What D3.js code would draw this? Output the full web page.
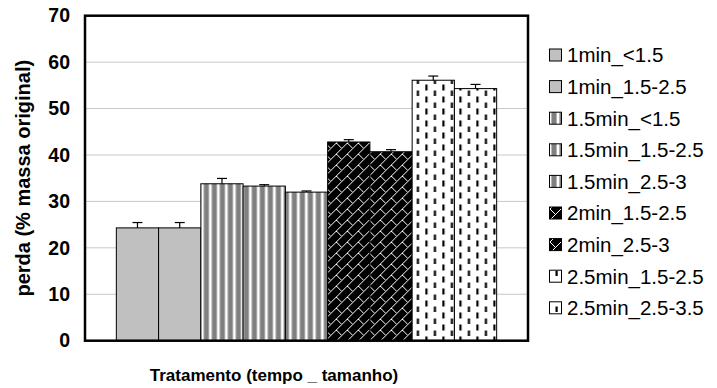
<!DOCTYPE html>
<html><head><meta charset="utf-8">
<script src="https://cdn.jsdelivr.net/npm/d3@7"></script>
<style>body{margin:0;background:#fff}svg{display:block}</style>
</head><body>
<svg id="c" width="717" height="388"></svg>
<script>
const categories = ["Tratamento"];
const series = ["1min_<1.5","1min_1.5-2.5","1.5min_<1.5","1.5min_1.5-2.5","1.5min_2.5-3","2min_1.5-2.5","2min_2.5-3","2.5min_1.5-2.5","2.5min_2.5-3.5"];
const values = [24.3, 24.3, 33.8, 33.3, 32.0, 42.8, 40.7, 56.1, 54.3];
const errors = [1.15, 1.15, 1.15, 0.3, 0.25, 0.5, 0.45, 0.9, 0.9];
const yTicks = [0, 10, 20, 30, 40, 50, 60, 70];
const yTitle = "perda (% massa original)";
const xTitle = "Tratamento (tempo _ tamanho)";

const patternOf = ["solid","solid","vstripe","vstripe","vstripe","brick","brick","dash","dash"];

const svg = d3.select("#c");
const L = 85, R = 528, T = 15.7, B = 340.7;
const FONT = "'Liberation Sans', Arial, Helvetica, sans-serif";

// patterns
const defs = svg.append("defs");
const pv = defs.append("pattern").attr("id","vstripe").attr("patternUnits","userSpaceOnUse").attr("width",8).attr("height",8);
pv.append("rect").attr("width",8).attr("height",8).attr("fill","#fff");
pv.append("rect").attr("x",0).attr("width",4).attr("height",8).attr("fill","#808080");
pv.append("rect").attr("x",4).attr("width",1).attr("height",8).attr("fill","#b4b4b4");
pv.append("rect").attr("x",7).attr("width",1).attr("height",8).attr("fill","#b4b4b4");
const pb = defs.append("pattern").attr("id","brick").attr("patternUnits","userSpaceOnUse").attr("width",11).attr("height",11);
pb.append("rect").attr("width",11).attr("height",11).attr("fill","#000");
pb.append("path").attr("d","M-1,12L12,-1M0,0L5.5,5.5").attr("stroke","#fff").attr("stroke-width",1).attr("fill","none");
const pd = defs.append("pattern").attr("id","dash").attr("patternUnits","userSpaceOnUse").attr("width",17).attr("height",12);
pd.append("rect").attr("width",17).attr("height",12).attr("fill","#fff");
pd.append("rect").attr("x",3).attr("y",0.5).attr("width",2.2).attr("height",6).attr("fill","#000");
pd.append("rect").attr("x",11.5).attr("y",6.5).attr("width",2.2).attr("height",6).attr("fill","#000");
const fillFor = p => p === "solid" ? "#c0c0c0" : `url(#${p})`;

const y = d3.scaleLinear().domain([0, 70]).range([B, T]);
const x0 = d3.scaleBand().domain(categories).range([L, R]).paddingInner(0).paddingOuter(0.0824);
const x1 = d3.scaleBand().domain(series).range([0, x0.bandwidth()]).padding(0);

// gridlines
svg.append("g").selectAll("line").data(yTicks.filter(t => t > 0 && t < 70)).join("line")
  .attr("x1", L).attr("x2", R).attr("y1", d => y(d)).attr("y2", d => y(d))
  .attr("stroke", "#c8c8c8").attr("stroke-width", 1);

// bars
const g = svg.append("g").attr("transform", `translate(${x0(categories[0])},0)`);
g.selectAll("rect").data(series).join("rect")
  .attr("x", d => x1(d)).attr("width", x1.bandwidth())
  .attr("y", (d, i) => y(values[i])).attr("height", (d, i) => B - y(values[i]))
  .attr("fill", (d, i) => fillFor(patternOf[i]))
  .attr("stroke", "#000").attr("stroke-width", 1);

// error bars
const eb = g.append("g").attr("stroke", "#000").attr("stroke-width", 1.2);
series.forEach((s, i) => {
  const cx = x1(s) + x1.bandwidth() / 2;
  eb.append("line").attr("x1", cx).attr("x2", cx).attr("y1", y(values[i])).attr("y2", y(values[i] + errors[i]));
  eb.append("line").attr("x1", cx - 5).attr("x2", cx + 5).attr("y1", y(values[i] + errors[i])).attr("y2", y(values[i] + errors[i]));
});

// frame
svg.append("rect").attr("x", L).attr("y", T).attr("width", R - L).attr("height", B - T)
  .attr("fill", "none").attr("stroke", "#000").attr("stroke-width", 2.5);

// y axis labels
const yAxis = d3.axisLeft(y).tickValues(yTicks).tickSize(0).tickPadding(15);
const ya = svg.append("g").attr("transform", `translate(${L},0)`).call(yAxis);
ya.select(".domain").remove();
ya.selectAll("text").attr("font-family", FONT).attr("font-weight", "bold").attr("font-size", 19.5).attr("fill", "#000");

// titles
svg.append("text").attr("x", 274).attr("y", 381).attr("text-anchor", "middle")
  .attr("font-family", FONT).attr("font-weight", "bold").attr("font-size", 17).text(xTitle);
svg.append("text").attr("transform", `translate(30,${(T + B) / 2}) rotate(-90)`).attr("text-anchor", "middle")
  .attr("font-family", FONT).attr("font-weight", "bold").attr("font-size", 20).text(yTitle);

// legend
const lg = svg.append("g");
series.forEach((s, i) => {
  const cy = 55 + i * 31.6;
  lg.append("rect").attr("x", 549.5).attr("y", cy - 6).attr("width", 12).attr("height", 12)
    .attr("fill", fillFor(patternOf[i])).attr("stroke", "#000").attr("stroke-width", 1);
  lg.append("text").attr("x", 567).attr("y", cy).attr("dy", "0.36em")
    .attr("font-family", FONT).attr("font-size", 20.5).attr("fill", "#000").text(s);
});
</script>
</body></html>
